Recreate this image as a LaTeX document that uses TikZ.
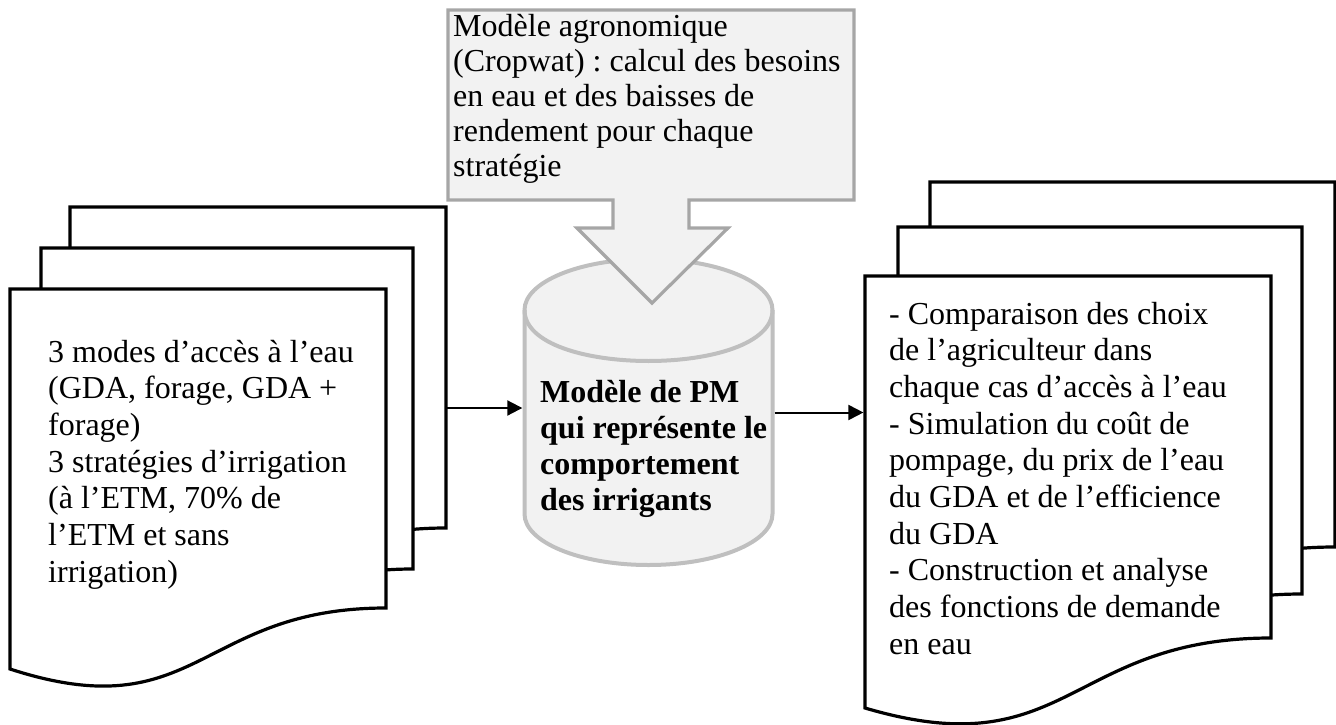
\documentclass[tikz,border=0pt]{standalone}
\usepackage{fontspec}
\setmainfont{Liberation Serif}
\usetikzlibrary{arrows.meta,calc}

\definecolor{softgray}{HTML}{F2F2F2}
\definecolor{cylgray}{HTML}{BFBFBF}
\definecolor{callgray}{HTML}{A6A6A6}

\frenchspacing

\begin{document}
\begin{tikzpicture}[
    x=1pt, y=-1pt,
    page/.style={draw=black, line width=3.2pt, fill=white, line join=miter},
    cylbody/.style={draw=cylgray, line width=4pt, fill=softgray},
    callout/.style={draw=callgray, line width=3.2pt, fill=softgray, line join=miter},
    % base west = baseline of the last line
    txt/.style={anchor=base west, inner sep=0pt, align=left, font=\fontsize{32}{36.7}\selectfont},
    arrow/.style={-{Triangle[length=15pt, width=15pt]}, line width=2pt},
]
\useasboundingbox (0,0) rectangle (1336,725);

% ================== Inputs (left stack) ==================
\draw[page] (70,207) -- (446,207) -- (446,528) .. controls (258,528) and (258,650) .. (70,589) -- cycle;
\draw[page] (41,248) -- (413,248) -- (413,569) .. controls (227,569) and (227,691) .. (41,630) -- cycle;
\draw[page] (10,289) -- (386,289) -- (386,608) .. controls (198,608) and (198,730) .. (10,669) -- cycle;
\coordinate (inR) at (446,408);

\node[txt] (inputs) at (48,582.2) {3 modes d’accès à l’eau\\(GDA, forage, GDA +\\forage)\\3 stratégies d’irrigation\\(à l’ETM, 70\% de\\l’ETM et sans\\irrigation)};

% ================== PM model ==================
\draw[cylbody] (524.5,310) -- (524.5,514) arc[start angle=180, end angle=0, x radius=124, y radius=51]
    -- (772.5,310) arc[start angle=0, end angle=-180, x radius=124, y radius=51] -- cycle;
% front rim of the top
\draw[cylbody, fill=none] (524.5,310) .. controls (524.5,378) and (772.5,378) .. (772.5,310);
\node[minimum width=252pt, minimum height=305pt, inner sep=0pt] (cyl) at (648.5,412.5) {};
\node[txt, font=\fontsize{32}{36}\selectfont\bfseries] (pm) at (540,510) {Modèle de PM\\qui représente le\\comportement\\des irrigants};

% ================== Cropwat callout ==================
\draw[callout] (448,10) -- (854,10) -- (854,200) -- (689,200) -- (689,228) -- (728,228) -- (652,303)
    -- (577,228) -- (613,228) -- (613,200) -- (448,200) -- cycle;
\node[txt, font=\fontsize{32}{35}\selectfont] (agro) at (453,176.7) {Modèle agronomique\\(Cropwat) : calcul des besoins\\en eau et des baisses de\\rendement pour chaque\\stratégie};

% ================== Outputs (right stack) ==================
\draw[page] (930,182) -- (1335,182) -- (1335,547) .. controls (1132,547) and (1132,677) .. (930,617) -- cycle;
\draw[page] (898,227) -- (1302,227) -- (1302,594) .. controls (1100,594) and (1100,724) .. (898,664) -- cycle;
\draw[page] (865,276) -- (1271,276) -- (1271,638) .. controls (1068,638) and (1068,768) .. (865,708) -- cycle;
\coordinate (outL) at (863.4,412.5);

\node[txt] (outputs) at (889,654.3) {- Comparaison des choix\\de l’agriculteur dans\\chaque cas d’accès à l’eau\\- Simulation du coût de\\pompage, du prix de l’eau\\du GDA et de l’efficience\\du GDA\\- Construction et analyse\\des fonctions de demande\\en eau};

% connectors
\draw[arrow] (inR) -- (inR -| cyl.west);
\draw[arrow] (cyl.east) -- (cyl.east -| outL);

\end{tikzpicture}
\end{document}
